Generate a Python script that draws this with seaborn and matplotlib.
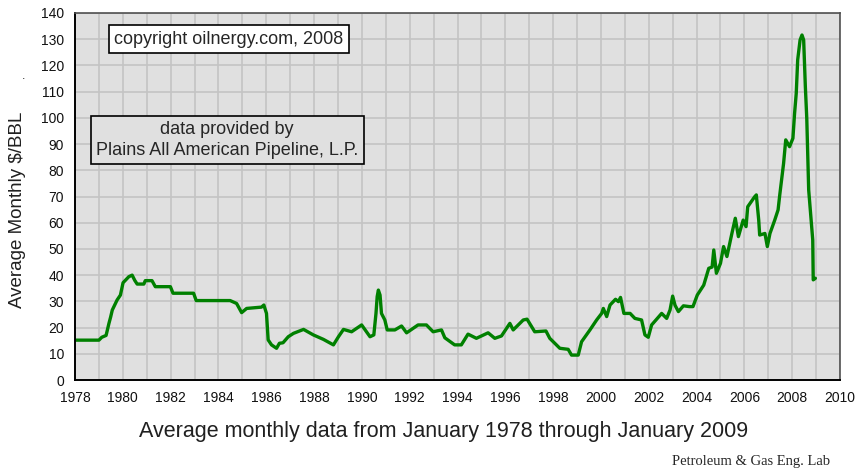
import matplotlib
matplotlib.use("Agg")
import matplotlib.pyplot as plt
import seaborn as sns
import pandas as pd

# ---- data ----
years = [
    1978.00, 1979.00, 1979.12, 1979.30, 1979.42, 1979.49, 1979.56, 1979.76, 1979.90,
    1980.01, 1980.25, 1980.39, 1980.50, 1980.60, 1980.88, 1980.94, 1981.22, 1981.36,
    1981.99, 1982.10, 1982.96, 1983.07, 1984.49, 1984.76, 1984.97, 1985.18, 1985.80,
    1985.90, 1986.01, 1986.08, 1986.22, 1986.43, 1986.55, 1986.70, 1986.92,
    1987.14, 1987.56, 1987.97, 1988.39, 1988.81, 1989.02, 1989.23, 1989.57, 1989.99,
    1990.34, 1990.50, 1990.59, 1990.64, 1990.69, 1990.76, 1990.82, 1990.96, 1991.06,
    1991.38, 1991.66, 1991.87, 1992.35, 1992.70, 1992.98, 1993.33, 1993.47, 1993.88,
    1994.16, 1994.44, 1994.79, 1995.28, 1995.56, 1995.84, 1996.19, 1996.33, 1996.75,
    1996.91, 1997.23, 1997.70, 1997.86, 1998.28, 1998.63, 1998.77, 1999.05, 1999.19,
    1999.54, 1999.82, 2000.03, 2000.10, 2000.24, 2000.38, 2000.61, 2000.73, 2000.82,
    2000.96, 2001.22, 2001.42, 2001.70, 2001.84, 2001.98, 2002.12, 2002.54, 2002.75,
    2002.89, 2003.00, 2003.10, 2003.24, 2003.45, 2003.70, 2003.85, 2004.03, 2004.30,
    2004.51, 2004.65, 2004.72, 2004.83, 2005.00, 2005.13, 2005.27, 2005.48, 2005.62,
    2005.75, 2005.95, 2006.07, 2006.14, 2006.43, 2006.50, 2006.60, 2006.64, 2006.86,
    2006.96, 2007.07, 2007.27, 2007.41, 2007.48, 2007.64, 2007.73, 2007.89, 2008.03,
    2008.10, 2008.17, 2008.23, 2008.33, 2008.41, 2008.48, 2008.55, 2008.61, 2008.69,
    2008.78, 2008.86, 2008.88, 2008.97,
]
prices = [
    15.2, 15.2, 16.3, 17.0, 21.6, 24.0, 26.7, 30.5, 32.4,
    37.1, 39.4, 40.0, 38.0, 36.6, 36.6, 37.9, 37.9, 35.6,
    35.6, 33.1, 33.1, 30.3, 30.3, 29.2, 25.7, 27.3, 27.8,
    28.6, 25.4, 15.3, 13.4, 12.1, 14.0, 14.2, 16.5,
    17.8, 19.3, 17.2, 15.5, 13.4, 16.5, 19.3, 18.4, 21.0,
    16.5, 17.2, 25.4, 31.8, 34.3, 32.4, 25.4, 22.9, 19.1,
    19.1, 20.6, 18.0, 21.0, 21.0, 18.4, 19.1, 16.1, 13.4,
    13.4, 17.5, 15.9, 18.0, 15.9, 16.8, 21.6, 19.1, 22.9,
    23.2, 18.4, 18.7, 15.9, 12.1, 11.7, 9.5, 9.5, 14.6,
    19.1, 22.9, 25.4, 27.3, 24.2, 28.6, 30.8, 29.9, 31.5,
    25.4, 25.4, 23.5, 22.9, 17.2, 16.3, 21.0, 25.4, 23.5,
    26.7, 32.0, 28.5, 26.1, 28.3, 28.0, 28.0, 32.4, 36.2,
    42.6, 43.1, 49.6, 40.7, 44.5, 50.9, 47.1, 56.0, 61.7,
    54.7, 61.0, 58.5, 66.1, 69.9, 70.6, 61.0, 55.3, 55.9,
    50.9, 55.9, 61.0, 64.9, 70.6, 82.6, 91.6, 89.0, 92.2,
    101.7, 109.4, 122.1, 129.7, 131.6, 129.7, 112.0, 99.8, 72.5,
    62.3, 53.4, 38.2, 38.8,
]
x_tick_years = list(range(1978, 2011))
x_tick_labels = [str(y) if y % 2 == 0 else "" for y in x_tick_years]
y_ticks = list(range(0, 141, 10))

df = pd.DataFrame({"year": years, "price": prices})

# ---- figure ----
sns.set_style("white")
plt.rcParams["font.family"] = ["Liberation Sans", "DejaVu Sans"]

fig = plt.figure(figsize=(8.57, 4.70), dpi=100)
ax = fig.add_axes([75 / 857, 1 - 380 / 470, 765 / 857, 367 / 470])
ax.set_facecolor("#e0e0e0")

sns.lineplot(data=df, x="year", y="price", ax=ax, color="#008000",
             linewidth=2.4, estimator=None, sort=False)

ax.set_xlim(1978, 2010)
ax.set_ylim(0, 140)
ax.set_xticks(x_tick_years)
ax.set_xticklabels(x_tick_labels)
ax.set_yticks(y_ticks)
ax.set_yticklabels([str(v) for v in y_ticks])
ax.grid(True, color="#c4c4c4", linewidth=1.2)
ax.set_axisbelow(True)
ax.tick_params(axis="both", direction="out", length=5, width=1.2,
               color="black", labelsize=10, pad=3, labelcolor="#111111")
for s in ["left", "bottom"]:
    ax.spines[s].set_color("black")
    ax.spines[s].set_linewidth(1.4)
for s in ["top", "right"]:
    ax.spines[s].set_color("#505050")
    ax.spines[s].set_linewidth(1.2)

ax.set_xlabel("")
ax.set_ylabel("")

fig.text((137 + 750) / 2 / 857, 1 - 431 / 470,
         "Average monthly data from January 1978 through January 2009",
         ha="center", va="center", fontsize=15.5, color="#202020")
fig.text(18 / 857, 1 - 210 / 470, "Average Monthly $/BBL", rotation=90,
         ha="center", va="center", fontsize=13.5, color="#202020")
fig.text(24 / 857, 1 - 76 / 470, ".", ha="center", va="center", fontsize=9)

ax.text(0.201, 0.929, "copyright oilnergy.com, 2008", transform=ax.transAxes,
        ha="center", va="center", fontsize=13,
        bbox=dict(boxstyle="square,pad=0.3", fc="white", ec="black", lw=1.2))
ax.text(0.199, 0.654, "data provided by\nPlains All American Pipeline, L.P.",
        transform=ax.transAxes, ha="center", va="center", fontsize=13,
        linespacing=1.3,
        bbox=dict(boxstyle="square,pad=0.3", fc="#e0e0e0", ec="black", lw=1.2))

fig.text(830 / 857, 1 - 461 / 470, "Petroleum & Gas Eng. Lab",
         ha="right", va="center", fontsize=10.5, family="Liberation Serif")

fig.savefig("out.png", dpi=100)
